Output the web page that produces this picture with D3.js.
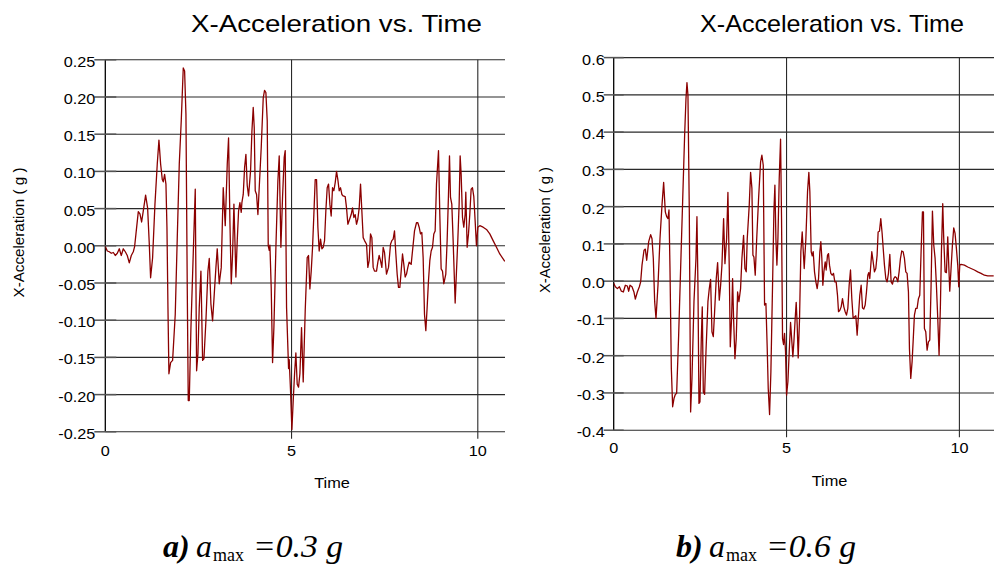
<!DOCTYPE html>
<html>
<head>
<meta charset="utf-8">
<script src="https://cdn.jsdelivr.net/npm/d3@7"></script>
<style>
  html, body { margin: 0; padding: 0; background: #fff; }
  svg { display: block; }
  text { font-family: "Liberation Sans", Arial, sans-serif; fill: #000; }
  text.cap { font-family: "Liberation Serif", "Times New Roman", serif; }
</style>
</head>
<body>
<script>
// ---- Record (a): peak ground acceleration 0.3 g ----
const timeA = [0,0.054,0.107,0.161,0.215,0.268,0.322,0.376,0.429,0.483,0.537,0.590,0.644,0.698,0.751,0.787,0.823,0.886,0.930,0.975,
  1.020,1.082,1.136,1.181,1.216,1.270,1.333,1.395,1.440,1.485,1.530,1.556,1.592,1.628,1.655,1.682,1.708,1.753,1.807,1.878,
  1.932,1.986,2.039,2.093,2.129,2.165,2.200,2.227,2.254,2.299,2.361,2.415,2.451,2.487,2.522,2.567,2.612,2.648,2.701,2.755,
  2.791,2.835,2.880,2.925,2.970,3.005,3.059,3.113,3.166,3.220,3.274,3.309,3.345,3.381,3.417,3.453,3.506,3.542,3.578,3.614,
  3.649,3.667,3.703,3.739,3.775,3.810,3.846,3.900,3.936,3.971,3.998,4.025,4.061,4.097,4.132,4.186,4.240,4.275,4.311,4.347,
  4.374,4.401,4.419,4.454,4.490,4.526,4.580,4.633,4.669,4.714,4.758,4.803,4.830,4.866,4.920,4.937,4.973,5.009,5.045,5.081,
  5.116,5.152,5.188,5.224,5.268,5.313,5.367,5.420,5.456,5.492,5.528,5.564,5.599,5.635,5.671,5.707,5.742,5.778,5.814,5.850,
  5.886,5.921,5.957,5.993,6.029,6.064,6.100,6.136,6.172,6.208,6.243,6.279,6.315,6.351,6.386,6.440,6.476,6.512,6.547,6.601,
  6.637,6.673,6.708,6.744,6.780,6.816,6.852,6.887,6.923,6.959,7.013,7.048,7.084,7.120,7.156,7.191,7.227,7.281,7.317,7.352,
  7.388,7.424,7.460,7.496,7.549,7.603,7.657,7.692,7.728,7.764,7.800,7.835,7.871,7.907,7.943,7.979,8.014,8.050,8.086,8.122,
  8.157,8.211,8.265,8.301,8.354,8.390,8.426,8.462,8.497,8.533,8.569,8.605,8.640,8.676,8.712,8.748,8.784,8.819,8.855,8.891,
  8.945,8.980,9.016,9.052,9.088,9.141,9.177,9.213,9.240,9.267,9.302,9.338,9.392,9.428,9.463,9.499,9.526,9.553,9.589,9.624,
  9.660,9.678,9.714,9.750,9.785,9.821,9.857,9.893,9.928,9.964,10.000,10.054,10.143,10.233,10.322,10.411,10.501,10.590,10.725];
const accelA = [-0.001,-0.007,-0.008,-0.010,-0.009,-0.013,-0.010,-0.004,-0.013,-0.004,-0.008,-0.013,-0.023,-0.013,-0.008,-0.001,0.016,0.046,0.043,0.032,
  0.047,0.068,0.051,0.002,-0.043,-0.016,0.056,0.110,0.142,0.110,0.089,0.086,0.096,0.083,0.025,-0.083,-0.172,-0.157,-0.154,-0.092,
  0.011,0.110,0.168,0.239,0.235,0.177,-0.056,-0.208,-0.208,-0.110,-0.011,0.076,-0.168,-0.145,-0.083,-0.034,-0.154,-0.152,-0.101,-0.034,
  -0.017,-0.078,-0.101,-0.065,-0.029,-0.004,-0.051,-0.029,0.078,0.027,0.110,0.145,0.034,-0.051,-0.011,0.056,-0.042,0.007,0.047,0.058,
  0.045,0.058,0.069,0.105,0.123,0.081,0.067,0.101,0.154,0.186,0.159,0.074,0.069,0.042,0.078,0.132,0.199,0.209,0.206,0.168,
  0.000,-0.006,0.001,-0.056,-0.157,-0.110,-0.002,0.087,0.121,-0.002,0.065,0.119,0.128,-0.083,-0.165,-0.153,-0.195,-0.247,-0.208,-0.172,
  -0.144,-0.186,-0.190,-0.172,-0.110,-0.183,-0.087,-0.016,-0.013,-0.058,-0.034,-0.002,0.042,0.089,0.089,0.025,-0.007,0.009,-0.004,-0.002,
  0.007,0.047,0.078,0.083,0.056,0.040,0.078,0.074,0.085,0.100,0.089,0.074,0.078,0.069,0.067,0.066,0.051,0.029,0.034,0.042,
  0.051,0.038,0.042,0.029,0.036,0.051,0.083,0.047,0.011,0.007,0.002,-0.029,-0.020,0.016,0.011,-0.029,-0.034,-0.034,-0.022,-0.013,
  -0.020,-0.029,-0.002,-0.009,-0.038,-0.029,0.002,0.007,0.009,0.020,-0.011,-0.038,-0.056,-0.056,-0.034,-0.011,-0.025,-0.042,-0.038,-0.029,
  -0.022,-0.025,0.002,0.020,0.031,0.031,0.025,0.016,0.018,-0.016,-0.092,-0.114,-0.083,-0.047,-0.020,-0.007,-0.002,0.016,0.020,0.083,
  0.128,0.042,-0.031,-0.034,-0.051,-0.038,0.007,0.069,0.121,0.065,0.056,0.007,-0.077,-0.034,0.007,0.056,0.121,0.096,0.038,0.025,
  0.042,0.072,-0.002,0.016,0.042,0.076,0.078,0.066,0.034,0.000,0.025,0.027,0.025,0.022,0.016,0.007,-0.002,-0.011,-0.021];

// ---- Record (b): peak ground acceleration 0.6 g ----
const timeB = [0,0.048,0.106,0.164,0.222,0.279,0.337,0.395,0.434,0.472,0.530,0.588,0.626,0.684,0.742,0.780,0.819,0.877,0.915,0.954,
  1.012,1.069,1.108,1.146,1.185,1.224,1.281,1.339,1.397,1.445,1.493,1.532,1.570,1.599,1.628,1.667,1.705,1.744,1.782,1.821,
  1.879,1.936,1.994,2.052,2.091,2.119,2.148,2.187,2.225,2.264,2.322,2.380,2.408,2.437,2.466,2.495,2.534,2.562,2.592,2.630,
  2.669,2.726,2.765,2.803,2.842,2.881,2.919,2.967,3.006,3.054,3.093,3.131,3.179,3.218,3.266,3.304,3.343,3.372,3.410,3.439,
  3.468,3.507,3.545,3.584,3.622,3.670,3.709,3.757,3.796,3.834,3.863,3.921,3.960,3.998,4.027,4.056,4.094,4.133,4.191,4.249,
  4.287,4.326,4.364,4.403,4.441,4.470,4.509,4.547,4.595,4.634,4.663,4.692,4.721,4.750,4.788,4.827,4.855,4.884,4.913,4.942,
  4.971,5.000,5.039,5.077,5.116,5.154,5.183,5.212,5.250,5.279,5.308,5.337,5.376,5.414,5.453,5.511,5.559,5.607,5.645,5.674,
  5.713,5.742,5.771,5.809,5.848,5.886,5.925,5.963,5.992,6.021,6.050,6.079,6.118,6.146,6.185,6.214,6.243,6.281,6.320,6.358,
  6.397,6.435,6.474,6.503,6.541,6.580,6.618,6.657,6.696,6.734,6.773,6.811,6.850,6.888,6.927,6.965,7.004,7.042,7.081,7.119,
  7.158,7.197,7.235,7.274,7.312,7.351,7.380,7.408,7.437,7.466,7.505,7.543,7.582,7.620,7.649,7.688,7.726,7.765,7.803,7.832,
  7.871,7.909,7.948,7.987,8.025,8.064,8.102,8.141,8.179,8.218,8.256,8.295,8.333,8.372,8.410,8.449,8.487,8.526,8.555,8.593,
  8.632,8.661,8.699,8.738,8.776,8.815,8.853,8.892,8.931,8.960,8.988,9.027,9.066,9.104,9.143,9.181,9.220,9.258,9.297,9.335,
  9.374,9.412,9.451,9.480,9.518,9.547,9.586,9.624,9.663,9.692,9.721,9.759,9.798,9.836,9.875,9.913,9.952,9.981,10.010,10.048,
  10.145,10.241,10.337,10.434,10.530,10.626,10.723,10.819,10.992];
const accelB = [-0.006,-0.015,-0.020,-0.015,-0.027,-0.029,-0.011,-0.013,-0.027,-0.011,-0.015,-0.030,-0.048,-0.029,-0.015,-0.002,0.043,0.083,0.086,0.056,
  0.106,0.125,0.114,0.061,-0.055,-0.100,-0.011,0.114,0.204,0.265,0.186,0.173,0.168,0.191,0.034,-0.234,-0.337,-0.315,-0.304,-0.301,
  -0.145,0.034,0.213,0.392,0.490,0.533,0.499,0.186,-0.351,-0.261,-0.055,0.061,0.173,-0.011,-0.328,-0.324,-0.154,-0.069,-0.297,-0.304,
  -0.190,-0.055,-0.020,0.005,-0.136,-0.149,-0.082,0.007,0.050,-0.051,-0.011,0.043,0.168,0.047,0.114,0.238,0.034,-0.176,-0.100,0.007,
  -0.100,-0.208,-0.154,-0.029,-0.055,-0.020,0.061,0.123,0.034,0.025,0.114,0.204,0.292,0.249,0.070,0.065,0.016,0.106,0.222,0.320,
  0.338,0.311,-0.064,-0.060,-0.181,-0.288,-0.358,-0.243,-0.011,0.186,0.258,0.114,0.043,0.114,0.275,0.381,0.168,-0.154,-0.170,-0.140,
  -0.190,-0.306,-0.270,-0.190,-0.111,-0.163,-0.203,-0.163,-0.100,-0.057,-0.118,-0.206,-0.100,0.079,0.132,0.034,0.114,0.240,0.292,0.240,
  0.079,0.068,0.079,0.025,-0.002,-0.020,0.007,0.079,0.106,0.061,-0.011,0.025,0.052,0.030,0.070,0.074,0.043,0.021,0.016,0.021,
  -0.002,-0.002,-0.038,-0.082,-0.078,-0.069,-0.047,-0.069,-0.082,-0.091,-0.073,-0.011,0.030,-0.047,-0.100,-0.096,-0.093,-0.145,-0.091,-0.038,
  -0.011,-0.072,-0.075,-0.064,-0.029,0.016,0.023,0.007,0.043,0.079,0.052,0.025,0.034,0.070,0.132,0.134,0.168,0.128,0.079,0.043,
  0.007,-0.002,0.021,0.072,-0.002,-0.008,0.007,0.012,0.009,-0.002,0.025,0.061,0.081,0.079,0.061,0.025,0.021,-0.029,-0.181,-0.261,
  -0.216,-0.163,-0.091,-0.073,-0.073,-0.047,-0.038,0.079,0.186,0.186,-0.127,-0.136,-0.185,-0.163,-0.158,-0.011,0.188,0.097,0.061,-0.011,
  -0.100,-0.199,-0.064,0.079,0.208,0.114,0.025,0.023,0.119,0.043,-0.027,0.034,0.097,0.143,0.128,0.088,0.043,-0.015,0.043,0.045,
  0.043,0.038,0.034,0.030,0.025,0.021,0.016,0.014,0.014];

// ---- Axis ticks and labels ----
const xTicks = [0, 5, 10];
const yTicksA = [-0.25, -0.20, -0.15, -0.10, -0.05, 0.00, 0.05, 0.10, 0.15, 0.20, 0.25];
const yLabelsA = ["-0.25", "-0.20", "-0.15", "-0.10", "-0.05", "0.00", "0.05", "0.10", "0.15", "0.20", "0.25"];
const yTicksB = [-0.4, -0.3, -0.2, -0.1, 0.0, 0.1, 0.2, 0.3, 0.4, 0.5, 0.6];
const yLabelsB = ["-0.4", "-0.3", "-0.2", "-0.1", "0.0", "0.1", "0.2", "0.3", "0.4", "0.5", "0.6"];

const titleText = "X-Acceleration vs. Time";
const yTitleText = "X-Acceleration ( g )";
const xTitleText = "Time";

const svg = d3.select("body").append("svg")
  .attr("width", 994).attr("height", 564);

// text drawn slightly wider than the font's natural proportions
function wideText(g, x, y, str, size, anchor, sx) {
  return g.append("text")
    .attr("transform", `translate(${x},${y}) scale(${sx},1)`)
    .attr("text-anchor", anchor)
    .attr("font-size", size)
    .text(str);
}

function drawPanel(p) {
  const g = svg.append("g");
  const x = d3.scaleLinear().domain([0, 10]).range([p.x0, p.x10]);
  const y = d3.scaleLinear().domain([p.yTicks[0], p.yTicks[p.yTicks.length - 1]]).range([p.bottom, p.top]);
  const top = y(p.yTicks[p.yTicks.length - 1]);
  const bottom = y(p.yTicks[0]);

  const clipId = "clip-" + p.id;
  svg.append("clipPath").attr("id", clipId)
    .append("rect").attr("x", p.x0).attr("y", top - 2)
    .attr("width", p.right - p.x0).attr("height", bottom - top + 4);

  // horizontal grid lines at every y tick
  g.selectAll("line.hgrid").data(p.yTicks).join("line")
    .attr("class", "hgrid")
    .attr("x1", p.x0).attr("x2", p.right)
    .attr("y1", d => y(d)).attr("y2", d => y(d))
    .attr("stroke", "#2a2a2a").attr("stroke-width", 1.1);

  // vertical grid lines at the x ticks after zero
  g.selectAll("line.vgrid").data(xTicks.filter(t => t > 0)).join("line")
    .attr("class", "vgrid")
    .attr("x1", d => x(d)).attr("x2", d => x(d))
    .attr("y1", top).attr("y2", bottom + 7)
    .attr("stroke", "#2a2a2a").attr("stroke-width", 1.1);

  // y axis line
  g.append("line")
    .attr("x1", p.x0).attr("x2", p.x0).attr("y1", top).attr("y2", bottom)
    .attr("stroke", "#000").attr("stroke-width", 1.3);

  // y tick marks crossing the axis
  g.selectAll("line.ytick").data(p.yTicks).join("line")
    .attr("class", "ytick")
    .attr("x1", p.x0 - p.tick).attr("x2", p.x0 + p.tick)
    .attr("y1", d => y(d)).attr("y2", d => y(d))
    .attr("stroke", "#555").attr("stroke-width", 1.5);

  // y tick labels
  p.yTicks.forEach((v, i) => {
    wideText(g, p.x0 - p.labelGap, y(v) + 7, p.yLabels[i], 14, "end", 1.16);
  });

  // x tick labels
  xTicks.forEach(t => {
    wideText(g, x(t), bottom + p.xLabelDy, String(t), 14, "middle", 1.16);
  });

  // data trace
  const pts = p.times.map((t, i) => [t, p.values[i]]);
  g.append("path")
    .datum(pts)
    .attr("clip-path", `url(#${clipId})`)
    .attr("fill", "none")
    .attr("stroke", "#8b0000")
    .attr("stroke-width", 1.3)
    .attr("stroke-linejoin", "round")
    .attr("d", d3.line().x(d => x(d[0])).y(d => y(d[1])));

  // chart title
  g.append("text")
    .attr("x", p.titleX).attr("y", 32.3)
    .attr("font-size", 24)
    .attr("textLength", p.titleW).attr("lengthAdjust", "spacingAndGlyphs")
    .text(titleText);

  // axis titles
  wideText(g, p.timeX, p.timeY, xTitleText, 14, "middle", 1.17);
  g.append("text")
    .attr("transform", `translate(${p.yTitleX},${p.yTitleY}) rotate(-90)`)
    .attr("text-anchor", "middle")
    .attr("font-size", 15)
    .attr("textLength", p.yTitleW).attr("lengthAdjust", "spacingAndGlyphs")
    .text(yTitleText);
}

drawPanel({
  id: "a", times: timeA, values: accelA, yTicks: yTicksA, yLabels: yLabelsA,
  x0: 105.3, x10: 477.8, right: 505, top: 59.8, bottom: 431.8,
  tick: 11, labelGap: 10, xLabelDy: 24,
  titleX: 191, titleW: 291, timeX: 332, timeY: 487.7,
  yTitleX: 23.5, yTitleY: 232.5, yTitleW: 130
});

drawPanel({
  id: "b", times: timeB, values: accelB, yTicks: yTicksB, yLabels: yLabelsB,
  x0: 613.7, x10: 959.4, right: 994, top: 57.6, bottom: 430.2,
  tick: 10, labelGap: 9, xLabelDy: 23,
  titleX: 700, titleW: 264, timeX: 829.5, timeY: 485.7,
  yTitleX: 549.5, yTitleY: 230, yTitleW: 126
});

// sub-figure captions: "x) a_max = value g"
function caption(x, letter, value) {
  const g = svg.append("g");
  const part = (dx, y, size, style, weight, str) => g.append("text")
    .attr("class", "cap")
    .attr("x", x + dx).attr("y", y)
    .attr("font-size", size)
    .attr("font-style", style)
    .attr("font-weight", weight)
    .text(str);
  part(0, 557, 32, "italic", "bold", letter + ")");
  part(33, 557, 32, "italic", "normal", "a");
  part(50, 561, 18, "normal", "normal", "max");
  part(90, 557, 32, "italic", "normal", "=" + value + " g")
    .attr("textLength", 90).attr("lengthAdjust", "spacingAndGlyphs");
}
caption(163, "a", "0.3");
caption(676, "b", "0.6");
</script>
</body>
</html>
